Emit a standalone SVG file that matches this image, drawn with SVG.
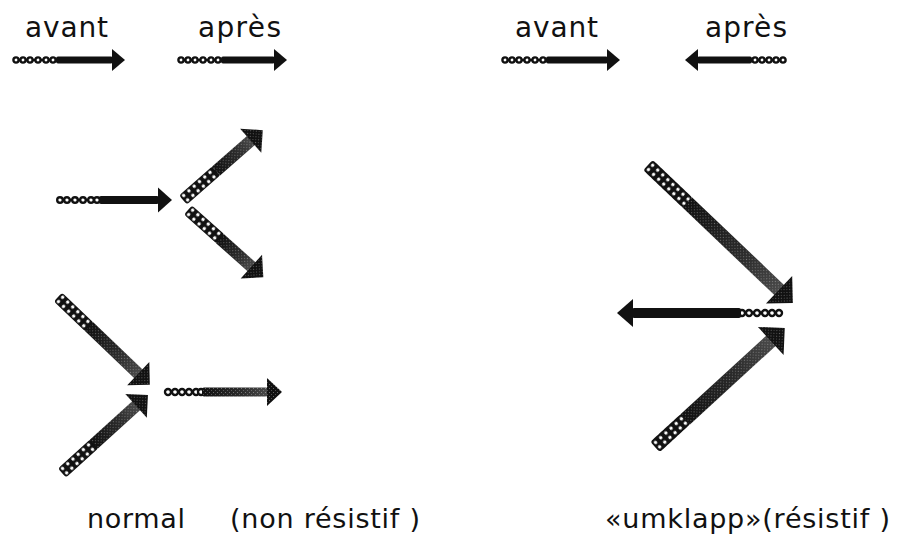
<svg xmlns="http://www.w3.org/2000/svg" width="897" height="541" viewBox="0 0 897 541">
<style>
.t{font-family:"DejaVu Sans","Liberation Sans",sans-serif;fill:#111}
.top{font-size:28px}
.bot{font-size:27px}
.tl{stroke:#111;stroke-width:2.4}
.bd{fill:#fff;stroke:#111;stroke-width:2.4}
.bk{fill:#111}
.beads{fill:url(#beadPat)}
.body{fill:url(#bodyGrad)}
.spk{fill:url(#speck)}
</style>
<defs>
<pattern id="beadPat" patternUnits="userSpaceOnUse" width="7" height="6">
<rect width="7" height="6" fill="#111"/>
<circle cx="3.5" cy="3" r="1.7" fill="#fff"/>
</pattern>
<pattern id="speck" patternUnits="userSpaceOnUse" width="4" height="4">
<rect x="0" y="0" width="1" height="1" fill="#fff" opacity="0.35"/>
<rect x="2" y="2" width="1" height="1" fill="#fff" opacity="0.25"/>
</pattern>
<linearGradient id="bodyGrad" x1="0" y1="0" x2="1" y2="0">
<stop offset="0" stop-color="#111"/>
<stop offset="0.6" stop-color="#2c2c2c"/>
<stop offset="1" stop-color="#4a4a4a"/>
</linearGradient>
</defs>
<rect width="897" height="541" fill="#fff"/>

<g id="labels">
<text class="t top" x="25" y="37" textLength="83" lengthAdjust="spacing">avant</text>
<text class="t top" x="198" y="37" textLength="83" lengthAdjust="spacing">après</text>
<text class="t top" x="515" y="37" textLength="83" lengthAdjust="spacing">avant</text>
<text class="t top" x="705" y="37" textLength="82" lengthAdjust="spacing">après</text>
<text class="t bot" x="87" y="528" textLength="98" lengthAdjust="spacing">normal</text>
<text class="t bot" x="230" y="528" textLength="190" lengthAdjust="spacing">(non résistif )</text>
<text class="t bot" x="605" y="528" textLength="285" lengthAdjust="spacing">«umklapp»(résistif )</text>
</g>

<!-- thin arrows -->
<g id="a1" transform="translate(13,60)">
<line class="tl" x1="0" y1="0" x2="44" y2="0"/>
<circle class="bd" cx="3" cy="0" r="2.6"/><circle class="bd" cx="10" cy="0" r="2.6"/><circle class="bd" cx="17" cy="0" r="2.6"/><circle class="bd" cx="25" cy="0" r="2.6"/><circle class="bd" cx="33" cy="0" r="2.6"/><circle class="bd" cx="40" cy="0" r="2.6"/>
<rect class="bk" x="43" y="-3.5" width="57" height="7" rx="2"/>
<path class="bk" d="M99,-11 L112,0 L99,11 Z"/>
</g>
<g id="a2" transform="translate(178,60)">
<line class="tl" x1="0" y1="0" x2="44" y2="0"/>
<circle class="bd" cx="3" cy="0" r="2.6"/><circle class="bd" cx="10" cy="0" r="2.6"/><circle class="bd" cx="17" cy="0" r="2.6"/><circle class="bd" cx="25" cy="0" r="2.6"/><circle class="bd" cx="33" cy="0" r="2.6"/><circle class="bd" cx="40" cy="0" r="2.6"/>
<rect class="bk" x="43" y="-3.5" width="54" height="7" rx="2"/>
<path class="bk" d="M96,-11 L109,0 L96,11 Z"/>
</g>
<g id="a3" transform="translate(502,60)">
<line class="tl" x1="0" y1="0" x2="45" y2="0"/>
<circle class="bd" cx="3" cy="0" r="2.6"/><circle class="bd" cx="10" cy="0" r="2.6"/><circle class="bd" cx="17" cy="0" r="2.6"/><circle class="bd" cx="25" cy="0" r="2.6"/><circle class="bd" cx="33" cy="0" r="2.6"/><circle class="bd" cx="41" cy="0" r="2.6"/>
<rect class="bk" x="44" y="-3.5" width="62" height="7" rx="2"/>
<path class="bk" d="M105,-11 L118,0 L105,11 Z"/>
</g>
<g id="a4" transform="translate(786,60) rotate(180)">
<line class="tl" x1="0" y1="0" x2="35" y2="0"/>
<circle class="bd" cx="3" cy="0" r="2.6"/><circle class="bd" cx="10" cy="0" r="2.6"/><circle class="bd" cx="17" cy="0" r="2.6"/><circle class="bd" cx="24" cy="0" r="2.6"/><circle class="bd" cx="31" cy="0" r="2.6"/>
<rect class="bk" x="34" y="-3.5" width="55" height="7" rx="2"/>
<path class="bk" d="M88,-11 L101,0 L88,11 Z"/>
</g>

<g id="a5" transform="translate(57,200)">
<line class="tl" x1="0" y1="0" x2="43" y2="0"/>
<circle class="bd" cx="3" cy="0" r="2.8"/><circle class="bd" cx="10" cy="0" r="2.8"/><circle class="bd" cx="18" cy="0" r="2.8"/><circle class="bd" cx="26" cy="0" r="2.8"/><circle class="bd" cx="34" cy="0" r="2.8"/><circle class="bd" cx="40" cy="0" r="2.8"/>
<rect class="bk" x="42" y="-4" width="60" height="8" rx="2"/>
<path class="bk" d="M101,-12.5 L115,0 L101,12.5 Z"/>
</g>
<g id="a10" transform="translate(165,392)">
<line class="tl" x1="0" y1="0" x2="38" y2="0"/>
<circle class="bd" cx="3" cy="0" r="3"/><circle class="bd" cx="10" cy="0" r="3"/><circle class="bd" cx="17" cy="0" r="3"/><circle class="bd" cx="24" cy="0" r="3"/><circle class="bd" cx="31" cy="0" r="3"/><circle class="bd" cx="36" cy="0" r="3"/>
<rect class="body" x="37" y="-4.5" width="66" height="9" rx="2"/>
<rect class="spk" x="37" y="-4.5" width="66" height="9"/>
<path class="bk" d="M102,-14 L117,0 L102,14 Z"/>
<path class="spk" d="M102,-14 L117,0 L102,14 Z"/>
</g>
<g id="a12" transform="translate(782,313) rotate(180)">
<line class="tl" x1="0" y1="0" x2="42" y2="0"/>
<circle class="bd" cx="3" cy="0" r="3"/><circle class="bd" cx="10" cy="0" r="3"/><circle class="bd" cx="17" cy="0" r="3"/><circle class="bd" cx="25" cy="0" r="3"/><circle class="bd" cx="33" cy="0" r="3"/><circle class="bd" cx="40" cy="0" r="3"/>
<rect class="bk" x="41" y="-5" width="109" height="10" rx="2"/>
<path class="bk" d="M149,-14 L165,0 L149,14 Z"/>
</g>

<!-- thick diagonal arrows -->
<g id="a6" transform="translate(183,200) rotate(-41.2)">
<rect class="beads" x="0" y="-6" width="45" height="12" rx="3"/>
<rect class="body" x="44" y="-6" width="47" height="12"/>
<rect class="spk" x="44" y="-6" width="47" height="12"/>
<path class="bk" d="M90,-16 L106,0 L90,16 Z"/>
<path class="spk" d="M90,-16 L106,0 L90,16 Z"/>
</g>
<g id="a7" transform="translate(188,210) rotate(41.8)">
<rect class="beads" x="0" y="-6" width="44" height="12" rx="3"/>
<rect class="body" x="43" y="-6" width="43" height="12"/>
<rect class="spk" x="43" y="-6" width="43" height="12"/>
<path class="bk" d="M85,-16 L101,0 L85,16 Z"/>
<path class="spk" d="M85,-16 L101,0 L85,16 Z"/>
</g>
<g id="a8" transform="translate(58,297) rotate(43.7)">
<rect class="beads" x="0" y="-6" width="44" height="12" rx="3"/>
<rect class="body" x="43" y="-6" width="69" height="12"/>
<rect class="spk" x="43" y="-6" width="69" height="12"/>
<path class="bk" d="M111,-16 L127,0 L111,16 Z"/>
<path class="spk" d="M111,-16 L127,0 L111,16 Z"/>
</g>
<g id="a9" transform="translate(62,473) rotate(-42.2)">
<rect class="beads" x="0" y="-6" width="44" height="12" rx="3"/>
<rect class="body" x="43" y="-6" width="58" height="12"/>
<rect class="spk" x="43" y="-6" width="58" height="12"/>
<path class="bk" d="M100,-16 L116,0 L100,16 Z"/>
<path class="spk" d="M100,-16 L116,0 L100,16 Z"/>
</g>
<g id="a11" transform="translate(648,165) rotate(43.6)">
<rect class="beads" x="0" y="-7" width="55" height="14" rx="3"/>
<rect class="body" x="54" y="-7" width="129" height="14"/>
<rect class="spk" x="54" y="-7" width="129" height="14"/>
<path class="bk" d="M181,-19 L200,0 L181,19 Z"/>
<path class="spk" d="M181,-19 L200,0 L181,19 Z"/>
</g>
<g id="a13" transform="translate(655,447) rotate(-42.5)">
<rect class="beads" x="0" y="-7" width="42" height="14" rx="3"/>
<rect class="body" x="41" y="-7" width="118" height="14"/>
<rect class="spk" x="41" y="-7" width="118" height="14"/>
<path class="bk" d="M157,-19 L176,0 L157,19 Z"/>
<path class="spk" d="M157,-19 L176,0 L157,19 Z"/>
</g>
</svg>
